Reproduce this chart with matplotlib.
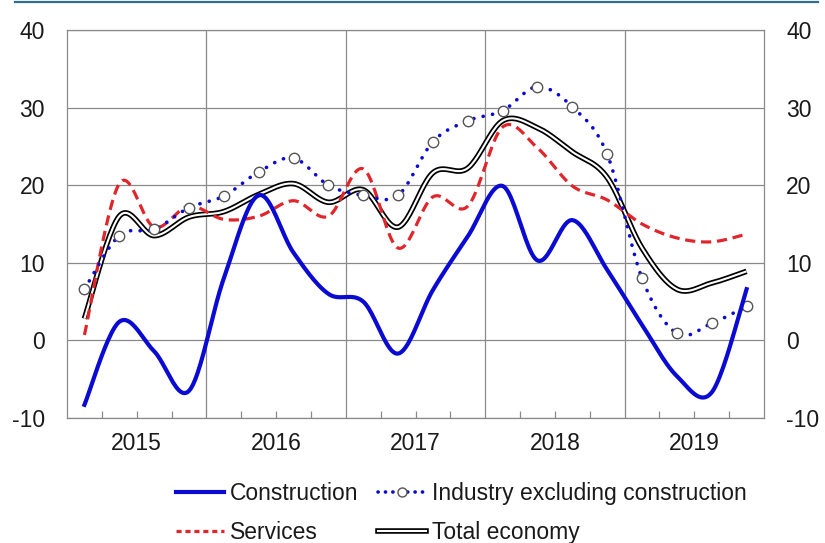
import numpy as np
import matplotlib.pyplot as plt
from matplotlib.lines import Line2D
from matplotlib.ticker import MultipleLocator

# quarterly observations 2015Q1 .. 2019Q4
years = [2015, 2016, 2017, 2018, 2019]
quarters = [y + (q - 0.5) / 4 for y in years for q in range(1, 5)]

construction = [-8.3, 2.4, -1.4, -6.5, 8.0, 18.7, 11.3, 6.0, 5.0, -1.7,
                6.5, 13.4, 19.9, 10.3, 15.5, 9.1, 2.0, -4.6, -6.7, 6.6]
industry = [6.6, 13.5, 14.3, 17.1, 18.6, 21.7, 23.5, 20.0, 18.7, 18.7,
            25.6, 28.3, 29.6, 32.7, 30.1, 24.0, 8.0, 0.9, 2.2, 4.4]
services = [0.7, 20.2, 14.6, 17.3, 15.6, 16.0, 18.0, 16.0, 22.1, 11.9,
            18.5, 17.3, 27.5, 24.8, 19.9, 18.1, 15.0, 13.2, 12.7, 13.7]
total = [2.8, 16.0, 13.5, 15.9, 16.6, 18.8, 20.2, 17.8, 19.4, 14.6,
         21.6, 22.2, 28.3, 27.4, 24.3, 21.0, 11.9, 6.6, 7.4, 8.9]

year_labels = ["2015", "2016", "2017", "2018", "2019"]

BLUE = "#0a0ad2"
RED = "#e1262b"
FS = 16.5

plt.rcParams['font.family'] = ['Liberation Sans', 'DejaVu Sans']
plt.rcParams['axes.unicode_minus'] = False


def smooth(x, y, n=24):
    # catmull-rom curve through the points (like a spreadsheet "smoothed line")
    p = np.column_stack([x, y]).astype(float)
    p = np.vstack([p[0], p, p[-1]])
    t = np.linspace(0, 1, n, endpoint=False)[:, None]
    out = []
    for i in range(1, len(p) - 2):
        p0, p1, p2, p3 = p[i - 1], p[i], p[i + 1], p[i + 2]
        seg = 0.5 * ((2 * p1) + (-p0 + p2) * t
                     + (2 * p0 - 5 * p1 + 4 * p2 - p3) * t ** 2
                     + (-p0 + 3 * p1 - 3 * p2 + p3) * t ** 3)
        out.append(seg)
    out.append(p[-2][None, :])
    out = np.vstack(out)
    return out[:, 0], out[:, 1]


fig = plt.figure(figsize=(8.25, 5.43), dpi=100)
ax = fig.add_axes([67 / 825, 1 - 418 / 543, (764 - 67) / 825, (418 - 30) / 543])

# top rule
fig.add_artist(Line2D([15 / 825, 818 / 825], [1 - 2 / 543, 1 - 2 / 543],
                      color="#2f6e8c", lw=1.6, transform=fig.transFigure))

ax.set_xlim(2015, 2020)
ax.set_ylim(-10, 40)
ax.yaxis.set_major_locator(MultipleLocator(10))
ax.set_xticks([2016, 2017, 2018, 2019])
ax.set_xticks([y + q / 4 for y in years for q in (1, 2, 3)], minor=True)
ax.grid(True, which="major", color="#8a8a8a", lw=0.9)
ax.set_axisbelow(True)
for s in ax.spines.values():
    s.set_color("#8a8a8a")
    s.set_linewidth(0.9)

ax.tick_params(axis="x", which="major", length=0, labelbottom=False)
ax.tick_params(axis="x", which="minor", direction="in", length=5,
               color="#8a8a8a", width=0.9, top=False)
ax.tick_params(axis="y", length=0, labelsize=FS, pad=16,
               labelleft=True, labelright=True)
for lab in ax.get_yticklabels():
    lab.set_color("#1a1a1a")

for y, lab in zip(years, year_labels):
    ax.text(y + 0.5, -13.3, lab, ha="center", va="center", fontsize=FS,
            color="#1a1a1a", clip_on=False)

# series
xs, ys = smooth(quarters, total)
ax.plot(xs, ys, color="black", lw=4.0, solid_capstyle="butt", zorder=3)
ax.plot(xs, ys, color="white", lw=1.5, solid_capstyle="butt", zorder=3.1)

xs, ys = smooth(quarters, services)
ax.plot(xs, ys, color=RED, lw=2.3, ls=(0, (3.2, 1.8)), zorder=4)

xs, ys = smooth(quarters, industry)
ax.plot(xs, ys, color=BLUE, lw=2.6, ls=(0, (0.05, 2.6)),
        dash_capstyle="round", zorder=5)
ax.plot(quarters, industry, ls="none", marker="o", ms=7.5, mfc="white",
        mec="#555555", mew=1.0, zorder=6)

xs, ys = smooth(quarters, construction)
ax.plot(xs, ys, color=BLUE, lw=3.0, zorder=7)

# legend
h_con = Line2D([], [], color=BLUE, lw=3.0)
h_ser = Line2D([], [], color=RED, lw=2.3, ls=(0, (1.6, 1.2)))
h_ind = (Line2D([], [], color=BLUE, lw=2.6, ls=(0, (0.05, 2.0)), dash_capstyle="round"),
         Line2D([], [], ls="none", marker="o", ms=6.5, mfc="white", mec="#555555", mew=1.0))
h_tot = (Line2D([], [], color="black", lw=4.0), Line2D([], [], color="white", lw=1.5))
leg = fig.legend([h_con, h_ser, h_ind, h_tot],
                 ["Construction", "Services", "Industry excluding construction", "Total economy"],
                 ncol=2, loc="center left", bbox_to_anchor=(176 / 825, 1 - 513 / 543),
                 frameon=False, fontsize=FS, handlelength=2.1, handletextpad=0.25,
                 columnspacing=0.87, labelspacing=0.68, borderpad=0, borderaxespad=0)
for t in leg.get_texts():
    t.set_color("#1a1a1a")

fig.savefig("out.png", dpi=100)
